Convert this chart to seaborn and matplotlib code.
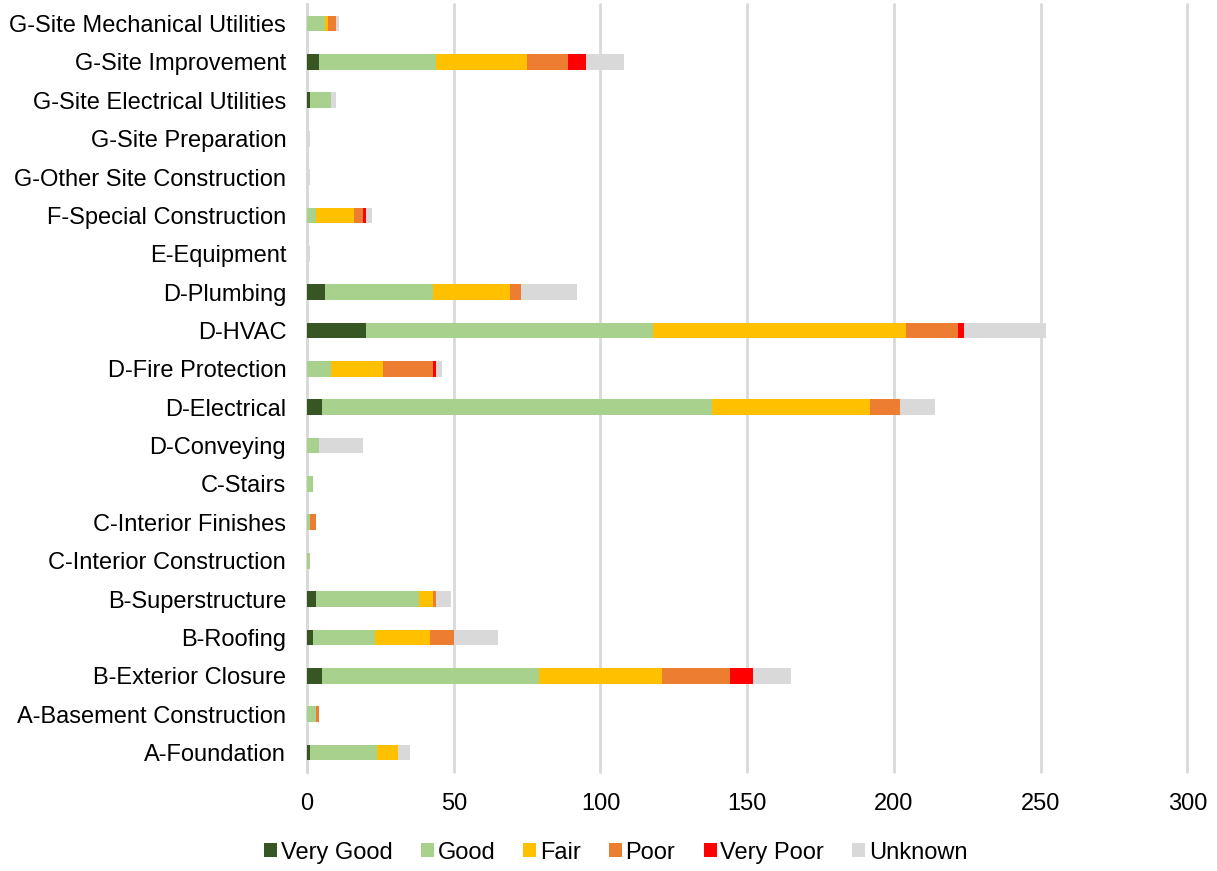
import numpy as np
import pandas as pd
import matplotlib
matplotlib.use("Agg")
import matplotlib.pyplot as plt
from matplotlib.patches import Patch
import seaborn as sns

categories = [
    "G-Site Mechanical Utilities", "G-Site Improvement", "G-Site Electrical Utilities",
    "G-Site Preparation", "G-Other Site Construction", "F-Special Construction",
    "E-Equipment", "D-Plumbing", "D-HVAC", "D-Fire Protection", "D-Electrical",
    "D-Conveying", "C-Stairs", "C-Interior Finishes", "C-Interior Construction",
    "B-Superstructure", "B-Roofing", "B-Exterior Closure", "A-Basement Construction",
    "A-Foundation",
]

very_good = [0, 4, 1, 0, 0, 0, 0, 6, 20, 0, 5, 0, 0, 0, 0, 3, 2, 5, 0, 1]
good      = [6, 40, 7, 0, 0, 3, 0, 37, 98, 8, 133, 4, 2, 1, 1, 35, 21, 74, 3, 23]
fair      = [1, 31, 0, 0, 0, 13, 0, 26, 86, 18, 54, 0, 0, 0, 0, 5, 19, 42, 0, 7]
poor      = [3, 14, 0, 0, 0, 3, 0, 4, 18, 17, 10, 0, 0, 2, 0, 1, 8, 23, 1, 0]
very_poor = [0, 6, 0, 0, 0, 1, 0, 0, 2, 1, 0, 0, 0, 0, 0, 0, 0, 8, 0, 0]
unknown   = [1, 13, 2, 1, 1, 2, 1, 19, 28, 2, 12, 15, 0, 0, 0, 5, 15, 13, 0, 4]

series_names = ["Very Good", "Good", "Fair", "Poor", "Very Poor", "Unknown"]
series_values = [very_good, good, fair, poor, very_poor, unknown]
colors = ["#375623", "#A9D18E", "#FFC000", "#ED7D31", "#FF0000", "#D9D9D9"]
x_ticks = [0, 50, 100, 150, 200, 250, 300]

sns.set_theme(style="white")
plt.rcParams["font.family"] = ["Liberation Sans", "DejaVu Sans"]

df = pd.DataFrame(dict(zip(series_names, series_values)), index=categories)
cum = df.cumsum(axis=1)

fig = plt.figure(figsize=(12.17, 8.71), dpi=100)
ax = fig.add_axes([0.2523, 0.114, 0.7233, 0.881])

# Stacked bars: draw running totals from the outermost segment inward
for name, color in zip(reversed(series_names), reversed(colors)):
    sns.barplot(x=cum[name].values, y=categories, order=categories, orient="h",
                color=color, width=0.41, linewidth=0, saturation=1, ax=ax)

ax.set_xlim(0, 300)
ax.set_xticks(x_ticks)
ax.set_xticklabels([str(t) for t in x_ticks], fontsize=17, color="#000000")
ax.tick_params(axis="y", labelsize=17, labelcolor="#000000", length=0, pad=15)
ax.tick_params(axis="x", length=0, pad=15.5)
ax.set_xlabel("")
ax.set_ylabel("")
ax.grid(axis="x", color="#D9D9D9", linewidth=2)
ax.set_axisbelow(True)
for gl in ax.get_xgridlines():
    gl.set_clip_on(False)
for side in ["top", "right", "bottom"]:
    ax.spines[side].set_visible(False)
ax.spines["left"].set_color("#D9D9D9")
ax.spines["left"].set_linewidth(2)
ax.spines["left"].set_zorder(0.5)

handles = [Patch(facecolor=c, edgecolor="none") for c in colors]
fig.legend(handles, series_names, loc="center", bbox_to_anchor=(0.506, 0.021),
           ncol=6, frameon=False, fontsize=17, handlelength=0.55, handleheight=0.55,
           handletextpad=0.15, columnspacing=1.2, labelcolor="#000000")

fig.savefig("out.png", dpi=100)
